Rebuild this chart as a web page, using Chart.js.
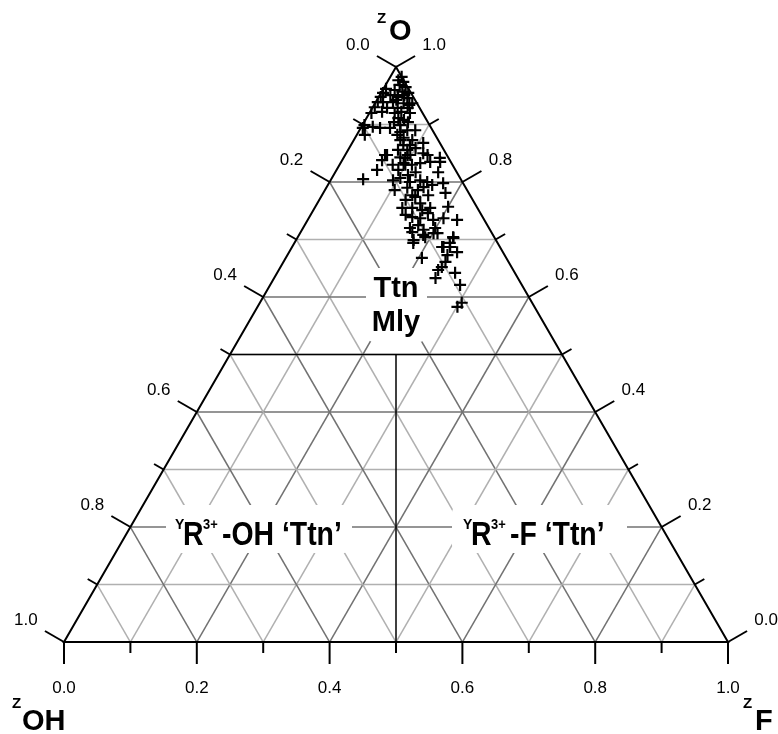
<!DOCTYPE html>
<html>
<head>
<meta charset="utf-8">
<script src="https://cdn.jsdelivr.net/npm/chart.js@4.4.0/dist/chart.umd.min.js"></script>
<style>
  html, body { margin: 0; padding: 0; background: #fff; }
  canvas { display: block; }
</style>
</head>
<body>
<canvas id="ternary" width="778" height="734"></canvas>
<script>
// ── Data: Z-site fractions (OH = 1 - O - F) ──────────────────────────────────
var zO = [
  0.983, 0.974, 0.969, 0.965, 0.962, 0.955, 0.960, 0.957, 0.955, 0.948,
  0.951, 0.948, 0.946, 0.939, 0.939, 0.939, 0.937, 0.937, 0.930, 0.929,
  0.929, 0.929, 0.920, 0.922, 0.920, 0.920, 0.911, 0.899, 0.894, 0.896,
  0.894, 0.894, 0.899, 0.887, 0.890, 0.890, 0.882, 0.877, 0.873, 0.864,
  0.868, 0.856, 0.856, 0.859, 0.847, 0.843, 0.847, 0.847, 0.842, 0.847,
  0.838, 0.842, 0.847, 0.850, 0.821, 0.805, 0.830, 0.833, 0.830, 0.833,
  0.835, 0.835, 0.817, 0.803, 0.807, 0.800, 0.803, 0.800, 0.795, 0.798,
  0.786, 0.790, 0.791, 0.781, 0.769, 0.774, 0.763, 0.755, 0.755, 0.751,
  0.755, 0.757, 0.739, 0.737, 0.734, 0.737, 0.734, 0.720, 0.717, 0.720,
  0.699, 0.704, 0.711, 0.703, 0.687, 0.687, 0.713, 0.708, 0.711, 0.704,
  0.694, 0.668, 0.687, 0.694, 0.678, 0.673, 0.661, 0.652, 0.647, 0.633,
  0.642, 0.621, 0.583, 0.590, 0.977, 0.951, 0.943, 0.934, 0.922, 0.908,
  0.904, 0.904, 0.873, 0.864, 0.882, 0.830, 0.821, 0.817, 0.812, 0.786,
  0.777, 0.777, 0.743, 0.725, 0.746
];
var zF = [
  0.017, 0.024, 0.021, 0.032, 0.004, 0.003, 0.018, 0.031, 0.041, 0.003,
  0.016, 0.029, 0.044, 0.003, 0.011, 0.026, 0.043, 0.056, 0.003, 0.022,
  0.038, 0.053, 0.003, 0.018, 0.038, 0.061, 0.048, 0.003, 0.003, 0.017,
  0.029, 0.044, 0.057, 0.063, 0.072, 0.084, 0.012, 0.073, 0.088, 0.079,
  0.107, 0.075, 0.089, 0.100, 0.063, 0.085, 0.098, 0.124, 0.145, 0.060,
  0.060, 0.093, 0.094, 0.116, 0.061, 0.048, 0.080, 0.095, 0.109, 0.120,
  0.134, 0.149, 0.155, 0.094, 0.103, 0.121, 0.135, 0.147, 0.157, 0.172,
  0.105, 0.122, 0.146, 0.184, 0.130, 0.142, 0.155, 0.132, 0.147, 0.164,
  0.174, 0.200, 0.155, 0.168, 0.189, 0.203, 0.225, 0.161, 0.183, 0.199,
  0.177, 0.192, 0.207, 0.235, 0.226, 0.238, 0.168, 0.187, 0.201, 0.234,
  0.179, 0.205, 0.228, 0.234, 0.253, 0.241, 0.244, 0.243, 0.240, 0.243,
  0.268, 0.286, 0.301, 0.304, 0.015, 0.037, 0.029, 0.053, 0.047, 0.058,
  0.045, 0.066, 0.070, 0.089, 0.061, 0.099, 0.093, 0.121, 0.112, 0.140,
  0.136, 0.160, 0.143, 0.171, 0.175
];

var tickSteps  = [0, 0.1, 0.2, 0.3, 0.4, 0.5, 0.6, 0.7, 0.8, 0.9, 1.0];
var tickLabels = ['0.0', '', '0.2', '', '0.4', '', '0.6', '', '0.8', '', '1.0'];
var axisNames  = ['O', 'OH', 'F'];
var fieldTop   = ['Ttn', 'Mly'];
var fieldOH    = ['Y', 'R', '3+', '-OH \u2018Ttn\u2019'];
var fieldF     = ['Y', 'R', '3+', '-F \u2018Ttn\u2019'];

var H = Math.sqrt(3) / 2;
function tx(o, f) { return f + o / 2; }
function ty(o)    { return o * H; }

var FONT = '"Liberation Sans", Arial, sans-serif';

// ── Frame, grid, ticks and labels ────────────────────────────────────────────
var ternaryFrame = {
  id: 'ternaryFrame',
  beforeDatasetsDraw: function (chart) {
    var ctx = chart.ctx;
    var xs = chart.scales.x, ys = chart.scales.y;
    function pt(o, f) { return [xs.getPixelForValue(tx(o, f)), ys.getPixelForValue(ty(o))]; }
    function seg(a, b, color, w) {
      ctx.strokeStyle = color; ctx.lineWidth = w;
      ctx.beginPath(); ctx.moveTo(a[0], a[1]); ctx.lineTo(b[0], b[1]); ctx.stroke();
    }
    function box(x0, y0, x1, y1) {
      var r = 8;
      ctx.fillStyle = '#fff';
      ctx.beginPath();
      ctx.moveTo(x0 + r, y0);
      ctx.arcTo(x1, y0, x1, y1, r); ctx.arcTo(x1, y1, x0, y1, r);
      ctx.arcTo(x0, y1, x0, y0, r); ctx.arcTo(x0, y0, x1, y0, r);
      ctx.closePath(); ctx.fill();
    }
    function word(text, x, y, size, sx) {
      ctx.save();
      ctx.translate(x, y); ctx.scale(sx, 1);
      ctx.font = 'bold ' + size + 'px ' + FONT;
      ctx.fillText(text, 0, 0);
      ctx.restore();
    }

    ctx.save();
    ctx.lineCap = 'butt';

    // grid
    for (var k = 1; k < 10; k++) {
      var t = tickSteps[k];
      var col = k % 2 === 0 ? '#727272' : '#b0b0b0';
      seg(pt(t, 0), pt(t, 1 - t), col, 1.5);
      seg(pt(0, t), pt(1 - t, t), col, 1.5);
      seg(pt(0, 1 - t), pt(1 - t, 0), col, 1.5);
    }

    // white boxes behind field names
    box(366, 268, 427, 342);
    box(166, 505, 352, 553);
    box(452, 505, 627, 553);

    // field boundaries
    seg(pt(0.5, 0), pt(0.5, 0.5), '#000', 1.5);
    seg(pt(0.5, 0.25), pt(0, 0.5), '#000', 1.5);

    // outline
    var a = pt(1, 0), b = pt(0, 0), c = pt(0, 1);
    ctx.strokeStyle = '#000'; ctx.lineWidth = 2; ctx.lineJoin = 'miter';
    ctx.beginPath(); ctx.moveTo(a[0], a[1]); ctx.lineTo(b[0], b[1]); ctx.lineTo(c[0], c[1]);
    ctx.closePath(); ctx.stroke();

    // ticks and tick labels
    var nL = [-H, -0.5], nR = [H, -0.5];
    ctx.fillStyle = '#000';
    ctx.font = '17px ' + FONT;
    ctx.textAlign = 'center'; ctx.textBaseline = 'middle';
    for (var i = 0; i < tickSteps.length; i++) {
      var v = tickSteps[i];
      var len = i % 2 === 0 ? 22 : 11;
      var pb = pt(0, v);                // bottom: zF
      var pl = pt(1 - v, 0);            // left: zOH
      var pr = pt(v, 1 - v);            // right: zO
      seg(pb, [pb[0], pb[1] + len], '#000', 2);
      seg(pl, [pl[0] + nL[0] * len, pl[1] + nL[1] * len], '#000', 2);
      seg(pr, [pr[0] + nR[0] * len, pr[1] + nR[1] * len], '#000', 2);
      if (tickLabels[i]) {
        ctx.fillText(tickLabels[i], pb[0], pb[1] + 46);
        ctx.fillText(tickLabels[i], pl[0] + nL[0] * 44, pl[1] + nL[1] * 44);
        ctx.fillText(tickLabels[i], pr[0] + nR[0] * 44, pr[1] + nR[1] * 44);
      }
    }

    // axis names
    ctx.textAlign = 'left'; ctx.textBaseline = 'alphabetic';
    word('Z', 377, 23, 15, 1); word(axisNames[0], 389, 40, 29, 1);
    word('Z', 12, 708, 15, 1); word(axisNames[1], 22, 730, 29, 1);
    word('Z', 743, 708, 15, 1); word(axisNames[2], 755, 730, 29, 1);

    // field names
    ctx.textAlign = 'center';
    word(fieldTop[0], 396, 297, 29, 1);
    word(fieldTop[1], 396, 331, 29, 1);
    ctx.textAlign = 'left';
    var sx = 0.86;
    [[175, fieldOH], [463, fieldF]].forEach(function (lab) {
      var x0 = lab[0], parts = lab[1];
      word(parts[0], x0, 529, 14, 1);
      word(parts[1], x0 + 8, 545, 33, sx);
      word(parts[2], x0 + 28, 529, 15, sx);
      word(parts[3], x0 + 47, 545, 33, sx);
    });

    ctx.restore();
  }
};

// ── Chart ────────────────────────────────────────────────────────────────────
var points = zO.map(function (o, i) { return { x: tx(o, zF[i]), y: ty(o) }; });

new Chart(document.getElementById('ternary').getContext('2d'), {
  type: 'scatter',
  data: {
    datasets: [{
      data: points,
      pointStyle: 'cross',
      pointRadius: 6,
      pointHoverRadius: 6,
      borderColor: '#000',
      backgroundColor: '#000',
      borderWidth: 2.2,
      clip: false
    }]
  },
  options: {
    responsive: false,
    animation: false,
    events: [],
    layout: { padding: { left: 64, right: 50, top: 67, bottom: 92 } },
    scales: {
      x: { type: 'linear', min: 0, max: 1, display: false },
      y: { type: 'linear', min: 0, max: H, display: false }
    },
    plugins: { legend: { display: false }, tooltip: { enabled: false } }
  },
  plugins: [ternaryFrame]
});
</script>
</body>
</html>
